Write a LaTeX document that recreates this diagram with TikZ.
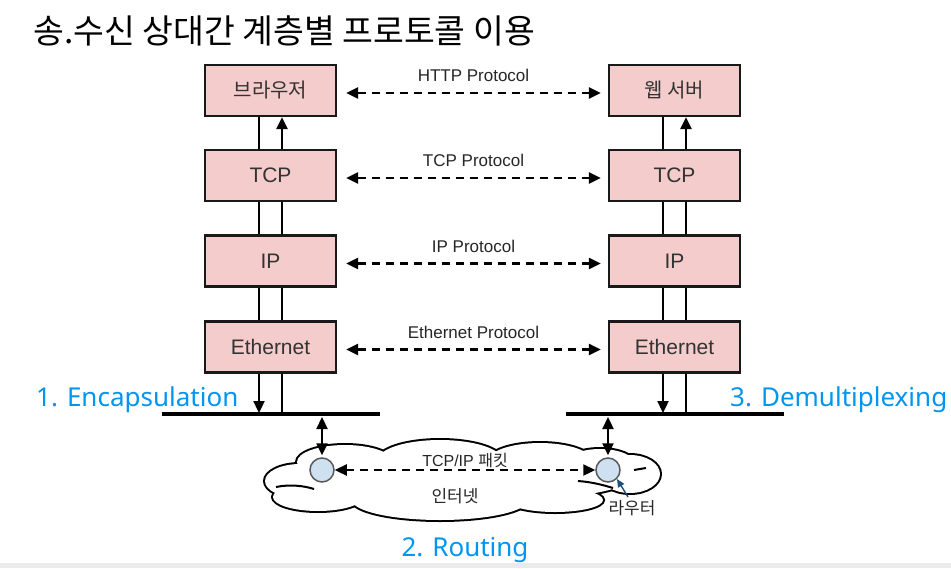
\documentclass[tikz,border=0pt]{standalone}
\usepackage{fontspec}
\setmainfont{Liberation Sans}
\newfontfamily\krfont{Noto Sans CJK KR}
\newfontfamily\bluefont{Noto Sans}
\usetikzlibrary{arrows.meta}
\definecolor{boxfill}{HTML}{F4CCCC}
\definecolor{lblue}{RGB}{0,150,240}
\definecolor{routerfill}{HTML}{CFE0F1}
\definecolor{navy}{HTML}{1F4E79}
\begin{document}
\begin{tikzpicture}[x=1pt,y=-1pt,
  layerbox/.style={draw=black!90, line width=2.3pt, fill=boxfill, minimum width=131pt,
    minimum height=51pt, inner sep=0pt, font=\fontsize{21}{24}\selectfont, text=black!80},
  vline/.style={line width=2.3pt},
  uparrow/.style={line width=2.3pt, -{Triangle[length=12pt,width=11pt]}},
  proto/.style={line width=2.3pt, dash pattern=on 8pt off 6pt,
    {Triangle[length=12pt,width=11pt]}-{Triangle[length=12pt,width=11pt]}},
  plabel/.style={font=\fontsize{17}{20}\selectfont, inner sep=0pt, text=black!85},
  bus/.style={line width=3.3pt},
  router/.style={circle, draw=black!65, line width=1.5pt, fill=routerfill, minimum size=24pt, inner sep=0pt},
  bluelabel/.style={font=\bluefont\fontsize{26}{30}\selectfont, text=lblue, inner sep=0pt},
  smalltext/.style={font=\fontsize{16}{19}\selectfont, inner sep=0pt, text=black!85}
]
\useasboundingbox[fill=white] (0,0) rectangle (951,568);
\fill[black!8] (0,563) rectangle (951,568);

% title
\node[anchor=base west, inner sep=0pt, font=\krfont\fontsize{33.5}{38}\selectfont] (title) at (33,43) {송.수신 상대간 계층별 프로토콜 이용};

% left stack
\node[layerbox] (l1) at (270.5,90.5) {\krfont\fontsize{20}{22}\selectfont 브라우저};
\node[layerbox] (l2) at (270.5,175.5) {TCP};
\node[layerbox] (l3) at (270.5,261) {IP};
\node[layerbox] (l4) at (270.5,347) {Ethernet};
% right stack
\node[layerbox] (r1) at (674.5,90.5) {\krfont\fontsize{20}{22}\selectfont 웹 서버};
\node[layerbox] (r2) at (674.5,175.5) {TCP};
\node[layerbox] (r3) at (674.5,261) {IP};
\node[layerbox] (r4) at (674.5,347) {Ethernet};

% vertical connections
\foreach \s in {l,r}{
  \draw[vline] ([xshift=-11.5pt]\s2.north) -- ([xshift=-11.5pt]\s1.south);
  \draw[uparrow] ([xshift=11.5pt]\s2.north) -- ([xshift=11.5pt]\s1.south);
  \draw[vline] ([xshift=-11.5pt]\s3.north) -- ([xshift=-11.5pt]\s2.south);
  \draw[vline] ([xshift=11.5pt]\s3.north) -- ([xshift=11.5pt]\s2.south);
  \draw[vline] ([xshift=-11.5pt]\s4.north) -- ([xshift=-11.5pt]\s3.south);
  \draw[vline] ([xshift=11.5pt]\s4.north) -- ([xshift=11.5pt]\s3.south);
}

% buses
\coordinate (bl1) at (162,414);
\coordinate (bl2) at (380,414);
\coordinate (br1) at (566,414);
\coordinate (br2) at (784,414);
\draw[bus] (bl1) -- (bl2);
\draw[bus] (br1) -- (br2);
\draw[uparrow] ([xshift=-11.5pt]l4.south) -- ([xshift=-11.5pt,yshift=1pt]l4.south |- bl1);
\draw[vline] ([xshift=11.5pt]l4.south) -- ([xshift=11.5pt]l4.south |- bl1);
\draw[uparrow] ([xshift=-11.5pt]r4.south) -- ([xshift=-11.5pt,yshift=1pt]r4.south |- br1);
\draw[vline] ([xshift=11.5pt]r4.south) -- ([xshift=11.5pt]r4.south |- br1);

% protocol arrows
\draw[proto] ([xshift=9pt,yshift=-2.5pt]l1.east) -- node[above=10pt, plabel] {HTTP Protocol} ([xshift=-7pt,yshift=-2.5pt]r1.west);
\draw[proto] ([xshift=9pt,yshift=-2.5pt]l2.east) -- node[above=10pt, plabel] {TCP Protocol} ([xshift=-7pt,yshift=-2.5pt]r2.west);
\draw[proto] ([xshift=9pt,yshift=-2.5pt]l3.east) -- node[above=10pt, plabel] {IP Protocol} ([xshift=-7pt,yshift=-2.5pt]r3.west);
\draw[proto] ([xshift=9pt,yshift=-2.5pt]l4.east) -- node[above=10pt, plabel] {Ethernet Protocol} ([xshift=-7pt,yshift=-2.5pt]r4.west);

% cloud (union of puffs)
\def\cloudpuffs{300/481/35/17, 630/474/30/19, 440/460/62/20, 440/500/88/20,
    345/462/48/17, 540/461/52/18, 600/465/36/16, 318/497/45/14, 555/500/48/12, 462/480/165/22}
\foreach \cx/\cy/\rx/\ry in \cloudpuffs{
  \draw[line width=4pt] (\cx,\cy) ellipse [x radius=\rx, y radius=\ry];
}
\foreach \cx/\cy/\rx/\ry in \cloudpuffs{
  \fill[white] (\cx,\cy) ellipse [x radius=\rx, y radius=\ry];
}
% small inner fold lines
\draw[line width=2pt] (276,487) .. controls (290,484) and (305,486) .. (314,489);
\draw[line width=2pt] (578,481) .. controls (592,482) and (603,485) .. (613,488);
\draw[line width=2pt] (634,470) -- (646,468);
\node[smalltext, font=\krfont\fontsize{17}{20}\selectfont] (netlabel) at (455,496) {인터넷};

% routers
\node[router] (ra) at (322,470) {};
\node[router] (rb) at (608,470) {};
\draw[line width=2.3pt, {Triangle[length=12pt,width=11pt]}-{Triangle[length=12pt,width=11pt]}]
  (ra.north |- bl1) ++(0,3) coordinate (ta) (ta) -- ([yshift=2pt]ra.north);
\draw[line width=2.3pt, {Triangle[length=12pt,width=11pt]}-{Triangle[length=12pt,width=11pt]}]
  (rb.north |- br1) ++(0,3) coordinate (tb) (tb) -- ([yshift=2pt]rb.north);
\draw[proto] (ra.east) -- node[above=1pt, smalltext] {TCP/IP {\krfont 패킷}} (rb.west);

\node[smalltext, font=\krfont\fontsize{17}{20}\selectfont] (rlabel) at (632,508) {라우터};
\draw[navy, line width=1.4pt, -{Triangle[length=8pt,width=7pt]}] (628,497) -- (rb.south east);

% blue labels
\node[bluelabel, anchor=base west] (enc) at (36,406) {1. Encapsulation};
\node[bluelabel, anchor=base west] (demux) at (730,406) {3. Demultiplexing};
\node[bluelabel, anchor=base] (rout) at (465,556) {2. Routing};
\end{tikzpicture}
\end{document}
